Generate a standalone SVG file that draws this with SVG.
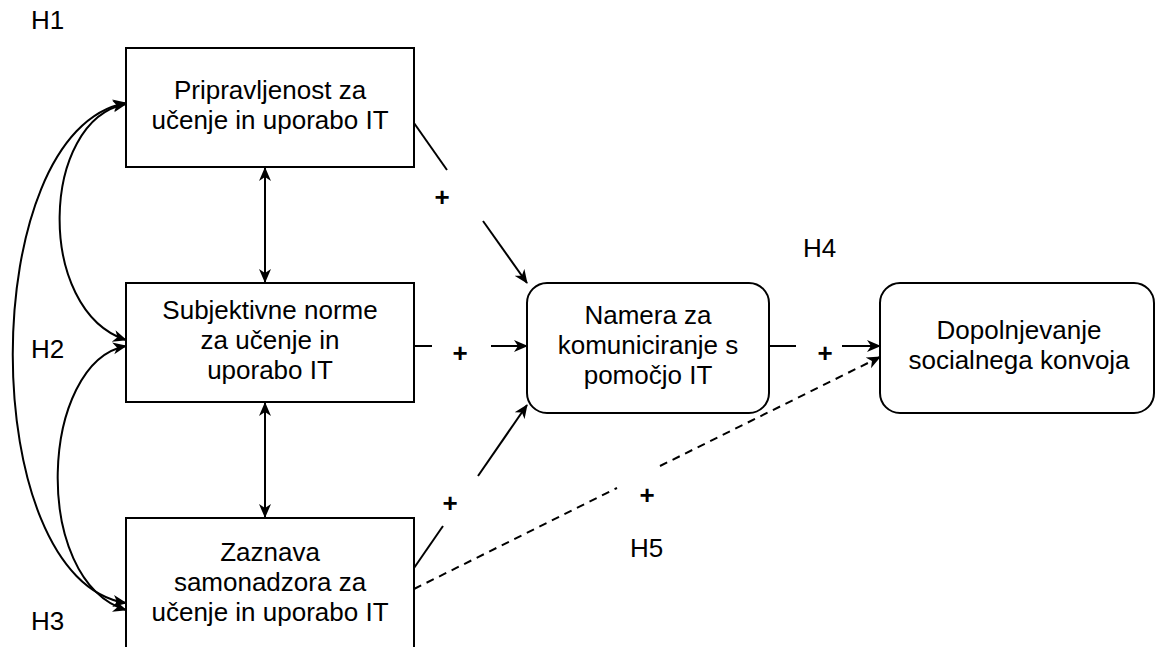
<svg xmlns="http://www.w3.org/2000/svg" width="1156" height="647" viewBox="0 0 1156 647">
<style>
.box{fill:#fff;stroke:#000;stroke-width:2}
.t{font-family:"Liberation Sans",Arial,sans-serif;font-size:26px;fill:#000;text-anchor:middle}
.p{font-family:"Liberation Sans",Arial,sans-serif;font-size:26px;font-weight:bold;fill:#000;text-anchor:middle}
.h{font-family:"Liberation Sans",Arial,sans-serif;font-size:26px;fill:#000}
.c{fill:none;stroke:#000;stroke-width:2}
.d{fill:none;stroke:#000;stroke-width:2;stroke-dasharray:8 6}
</style>
<defs>
<marker id="ah" viewBox="0 0 15 14" refX="13" refY="7" markerWidth="15" markerHeight="14" markerUnits="userSpaceOnUse" orient="auto-start-reverse">
<path d="M14,7 L0,1 L4,7 L0,13 Z" fill="#000"/>
</marker>
</defs>
<rect width="1156" height="647" fill="#fff"/>
<g id="connectors">
<path class="c" d="M126,104 C40,120 35,310 126,340" marker-start="url(#ah)" marker-end="url(#ah)"/>
<path class="c" d="M126,346 C40,362 30,580 126,610" marker-start="url(#ah)" marker-end="url(#ah)"/>
<path class="c" d="M126,103 C-25,130 -25,580 126,603" marker-start="url(#ah)" marker-end="url(#ah)"/>
<line class="c" x1="265" y1="168" x2="265" y2="282" marker-start="url(#ah)" marker-end="url(#ah)"/>
<line class="c" x1="265" y1="403" x2="265" y2="517" marker-start="url(#ah)" marker-end="url(#ah)"/>
<line class="c" x1="414" y1="123" x2="447" y2="170"/>
<line class="c" x1="483" y1="221" x2="527" y2="283" marker-end="url(#ah)"/>
<line class="c" x1="414" y1="346" x2="432" y2="346"/>
<line class="c" x1="491" y1="346" x2="527" y2="346" marker-end="url(#ah)"/>
<line class="c" x1="414" y1="568" x2="443" y2="526"/>
<line class="c" x1="478" y1="476" x2="527" y2="405" marker-end="url(#ah)"/>
<line class="c" x1="769" y1="346" x2="796" y2="346"/>
<line class="c" x1="842" y1="346" x2="880" y2="346" marker-end="url(#ah)"/>
<line class="d" x1="414" y1="589" x2="617" y2="488"/>
<line class="d" x1="660" y1="466" x2="880" y2="357" marker-end="url(#ah)"/>
<text class="p" x="442" y="206">+</text>
<text class="p" x="460" y="362">+</text>
<text class="p" x="450" y="512">+</text>
<text class="p" x="825" y="362">+</text>
<text class="p" x="647" y="504">+</text>
</g>
<g id="n1">
<rect class="box" x="126" y="48" width="288" height="119"/>
<text class="t" x="270" y="99">Pripravljenost za</text>
<text class="t" x="270" y="129">učenje in uporabo IT</text>
</g>
<g id="n2">
<rect class="box" x="126" y="283" width="288" height="119"/>
<text class="t" x="270" y="319">Subjektivne norme</text>
<text class="t" x="270" y="349">za učenje in</text>
<text class="t" x="270" y="379">uporabo IT</text>
</g>
<g id="n3">
<rect class="box" x="126" y="518" width="288" height="140"/>
<text class="t" x="270" y="561">Zaznava</text>
<text class="t" x="270" y="591">samonadzora za</text>
<text class="t" x="270" y="621">učenje in uporabo IT</text>
</g>
<g id="n4">
<rect class="box" x="527" y="283" width="242" height="130" rx="20" ry="20"/>
<text class="t" x="648" y="324">Namera za</text>
<text class="t" x="648" y="354">komuniciranje s</text>
<text class="t" x="648" y="384">pomočjo IT</text>
</g>
<g id="n5">
<rect class="box" x="880" y="283" width="274" height="130" rx="20" ry="20"/>
<text class="t" x="1019" y="339">Dopolnjevanje</text>
<text class="t" x="1019" y="369">socialnega konvoja</text>
</g>
<g id="labels">
<text class="h" x="31" y="29">H1</text>
<text class="h" x="31" y="358">H2</text>
<text class="h" x="31" y="630">H3</text>
<text class="h" x="803" y="257">H4</text>
<text class="h" x="630" y="557">H5</text>
</g>
</svg>
